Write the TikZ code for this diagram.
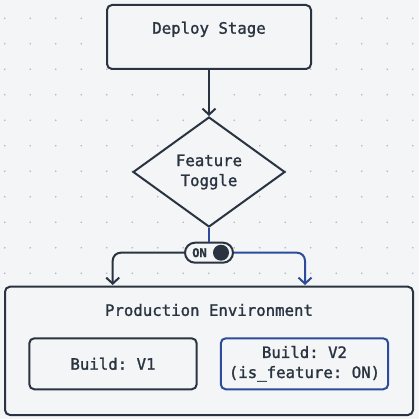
\documentclass[tikz,border=0pt]{standalone}
\usepackage{fontspec}
\setmonofont[FakeBold=1.4]{DejaVu Sans Mono}
\usetikzlibrary{shapes.geometric,arrows.meta}
\definecolor{ink}{HTML}{2A3440}
\definecolor{bl}{HTML}{2E4A9A}
\definecolor{bg}{HTML}{F3F5F7}
\definecolor{dotc}{HTML}{B2B7BD}
\tikzset{
	box/.style={draw=ink, line width=2pt, fill=bg, rounded corners=5pt, inner sep=0pt},
	txt/.style={font=\ttfamily\fontsize{15.7}{20}\selectfont, text=ink, align=center},
	lnk/.style={draw=ink, line width=2pt, rounded corners=8pt},
	tip/.style={-{Straight Barb[length=6pt,width=13pt,line width=2pt]}},
}

\begin{document}
\begin{tikzpicture}[x=1pt,y=-1pt]
	\fill [bg] (0,0) rectangle (419,419);
	\useasboundingbox (0,0) rectangle (419,419);

	% dot grid
	\foreach \i in {0,...,16}
		\foreach \j in {0,...,15}
			\fill [dotc] (4.7+25.5*\i,18.3+25.5*\j) circle[radius=0.9pt];

	\node [box, txt, minimum width=204pt, minimum height=64pt, text height=12pt, text depth=18.6pt] (deploy) at (209,37) {Deploy Stage};

	\node [box, txt, shape=diamond, rounded corners=0pt, minimum width=152pt, minimum height=110pt] (toggle) at (209,172) {Feature\\Toggle};

	\node [box, minimum width=48pt, minimum height=20pt, rounded corners=10pt] (pill) at (209,252.7) {};
	\node [font=\ttfamily\bfseries\fontsize{12}{12}\selectfont, text=ink] (on) at (199.5,252.7) {ON};
	\fill [ink] (221,252.7) circle[radius=8pt];

	\node [box, minimum width=408pt, minimum height=128.3pt] (prod) at (209,350.85) {};
	\node [txt] (title) at (209,310) {Production Environment};
	\node [box, txt, minimum width=167.4pt, minimum height=51pt] (v1) at (113,363.8) {Build: V1};
	\node [box, txt, draw=bl, minimum width=167.4pt, minimum height=51pt] (v2) at (304.5,363.8) {Build: V2\\(is\_feature: ON)};

	\coordinate (inL) at (112.7,285);
	\coordinate (inR) at (305,285);

	\draw [lnk, tip] (deploy.south) -- (toggle.north);
	\draw [lnk, draw=bl] (toggle.south) -- (pill.north);
	\draw [lnk, tip] (pill.west) -| (inL);
	\draw [lnk, tip, draw=bl] (pill.east) -| (inR);
\end{tikzpicture}
\end{document}
